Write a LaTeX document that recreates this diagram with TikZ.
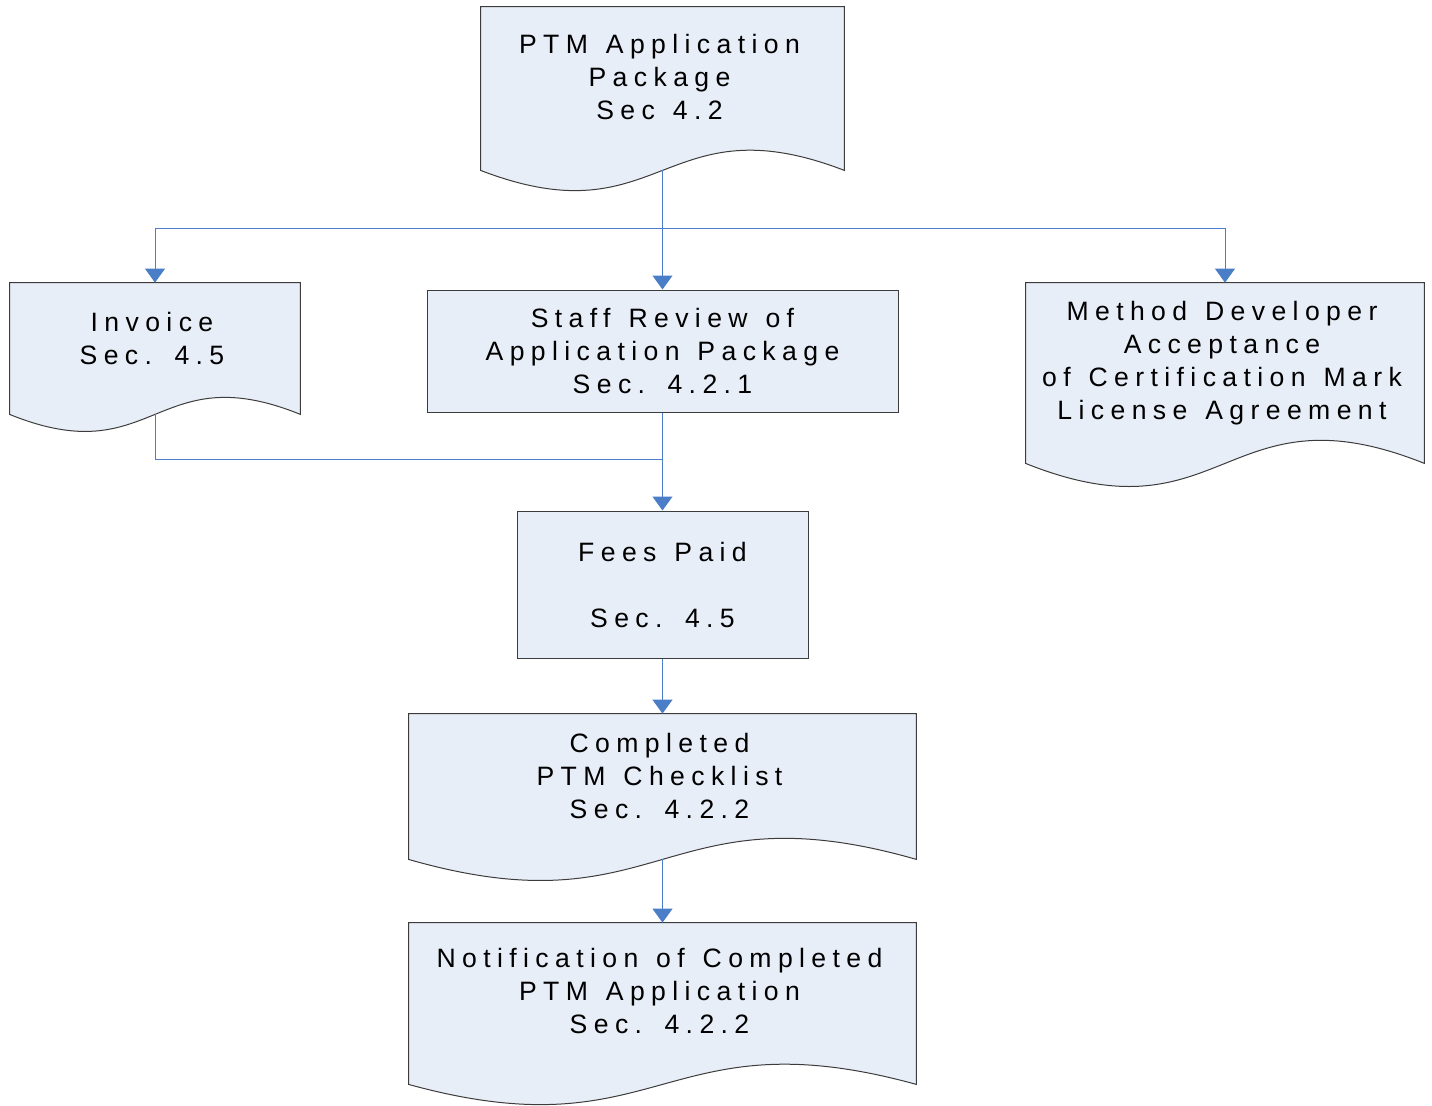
\documentclass[tikz,border=0pt]{standalone}
\usepackage{fontspec}
\usepackage{xcolor}
\usepackage{tikz}
\usetikzlibrary{arrows.meta,calc,positioning}

\newfontfamily\flowfont{Liberation Sans}[LetterSpace=24, WordSpace=1.3]
\definecolor{boxfill}{RGB}{232,238,248}
\definecolor{boxline}{RGB}{60,60,60}
\definecolor{flowblue}{RGB}{74,126,198}

\tikzset{
  docbox/.style = {shape=rectangle, inner sep=0pt},
  procbox/.style = {shape=rectangle, draw=boxline, fill=boxfill,
    line width=0.5pt, align=center,
    font=\flowfont\fontsize{13.3pt}{16.5pt}\selectfont},
  doctext/.style = {inner sep=0pt, align=center, xshift=-1.5pt,
    font=\flowfont\fontsize{13.3pt}{16.5pt}\selectfont},
  flowline/.style = {draw=flowblue, line width=0.5pt},
  flowarrow/.style = {flowline, -{Triangle[width=10pt,length=7pt]}}
}

% document shape with a wavy bottom edge
\newcommand\docwave[2]{%
  \filldraw[draw=boxline, fill=boxfill, line width=0.5pt]
    (#1.south west) -- (#1.north west) -- (#1.north east) -- (#1.south east)
    .. controls ($(#1.south)+(0,-#2)$) and ($(#1.south)+(0,#2)$) .. (#1.south west)
    -- cycle;}

\begin{document}
\begin{tikzpicture}[x=0.5pt, y=-0.5pt]
  \path[use as bounding box, fill=white] (0,0) rectangle (1432,1105);

  % shapes
  \node[docbox, minimum width=181.5pt, minimum height=81.5pt] (package) at (662.5,88.5) {};
  \node[docbox, minimum width=145pt, minimum height=65.5pt] (invoice) at (155,348.5) {};
  \node[docbox, minimum width=199pt, minimum height=90pt] (mda) at (1225,373) {};
  \node[docbox, minimum width=253.5pt, minimum height=72.5pt] (checklist) at (662.5,786.5) {};
  \node[docbox, minimum width=253.5pt, minimum height=80.5pt] (notify) at (662.5,1003.5) {};

  \docwave{package}{70}
  \docwave{invoice}{59}
  \docwave{mda}{80}
  \docwave{checklist}{73}
  \docwave{notify}{70}

  \node[procbox, minimum width=235.5pt, minimum height=61pt] (review) at (662.5,351)
    {Staff Review of\\ Application Package\\ Sec. 4.2.1};
  \node[procbox, minimum width=145.5pt, minimum height=73.5pt] (fees) at (662.5,584.5)
    {Fees Paid\\[16.5pt] Sec. 4.5};

  % texts of the documents
  \node[doctext, below=13.5pt of package.north] (package-text)
    {PTM Application\\ Package\\ Sec 4.2};
  \node[doctext, below=14.75pt of invoice.north] (invoice-text)
    {Invoice\\ Sec. 4.5};
  \node[doctext, below=9.25pt of mda.north] (mda-text)
    {Method Developer\\ Acceptance\\ of Certification Mark\\ License Agreement};
  \node[doctext, below=9.75pt of checklist.north] (checklist-text)
    {Completed\\ PTM Checklist\\ Sec. 4.2.2};
  \node[doctext, below=12.5pt of notify.north] (notify-text)
    {Notification of Completed\\ PTM Application\\ Sec. 4.2.2};

  % connectors
  \coordinate (split) at (662.5,228);
  \coordinate (merge) at (662.5,459);
  \draw[flowarrow] (package.south) -- (review.north);
  \draw[flowarrow] (split) -| (invoice.north);
  \draw[flowarrow] (split) -| (mda.north);
  \draw[flowline] (invoice.south) |- (merge);
  \draw[flowarrow] (review.south) -- (fees.north);
  \draw[flowarrow] (fees.south) -- (checklist.north);
  \draw[flowarrow] (checklist.south) -- (notify.north);
\end{tikzpicture}
\end{document}
